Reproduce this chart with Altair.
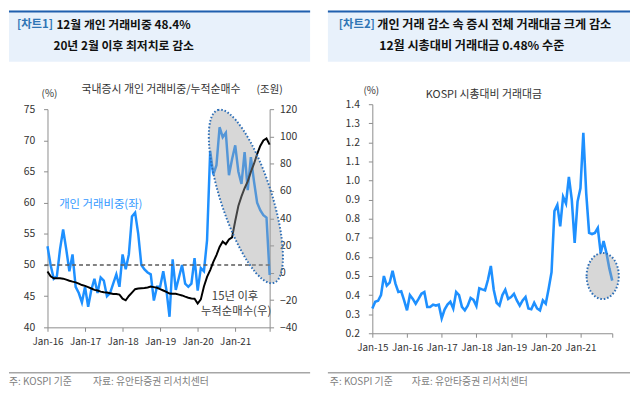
import altair as alt
import pandas as pd

FONT = "Noto Sans CJK KR"

# ---------------- Chart 1 data (Jan-16 .. Dec-21, monthly) ----------------
share_pct = [53.0, 50.0, 47.8, 48.2, 52.5, 55.7, 52.5, 49.0, 51.7, 46.5, 45.5, 44.0,
             46.5, 43.3, 46.0, 47.8, 45.5, 48.0, 47.5, 45.0, 45.5, 47.0, 48.5, 46.5,
             51.7, 49.3, 51.7, 57.8, 58.4, 55.0, 50.0, 49.3, 48.8, 48.5, 44.3, 46.5,
             46.5, 49.0, 46.0, 41.7, 50.9, 46.0, 48.0, 50.0, 47.0, 46.5, 47.0, 51.1,
             45.9, 49.5, 49.0, 54.0, 68.3, 64.5, 66.0, 72.1, 70.5, 71.2, 64.4, 67.0,
             69.2, 65.0, 63.0, 68.1, 62.0, 67.3, 63.4, 60.0, 58.8, 58.0, 57.6, 48.4]
net_buy = [1.0, -2.5, -4.0, -4.0, -4.0, -4.3, -5.0, -5.8, -6.5, -7.0, -8.0, -9.0,
           -9.6, -10.5, -11.5, -12.5, -13.0, -13.8, -14.2, -14.5, -15.0, -15.5, -15.5, -16.0,
           -19.0, -20.2, -17.0, -14.5, -12.0, -11.5, -11.3, -11.2, -10.8, -10.1, -10.5, -11.0,
           -12.0, -13.0, -14.0, -15.2, -15.4, -15.4, -16.0, -16.6, -17.5, -18.3, -18.8, -19.0,
           -22.6, -19.5, -10.0, -3.0, 2.0, 8.0, 13.0, 19.0, 23.0, 21.0, 24.4, 26.0,
           38.0, 49.0, 56.0, 62.0, 67.0, 74.0, 80.0, 87.0, 93.0, 97.0, 98.5, 94.0]
year_ticks_1 = ["Jan-16", "Jan-17", "Jan-18", "Jan-19", "Jan-20", "Jan-21"]

# ---------------- Chart 2 data (Jan-15 .. Dec-21, monthly) ----------------
turnover = [0.33, 0.365, 0.37, 0.40, 0.50, 0.45, 0.465, 0.527, 0.46, 0.416, 0.42, 0.372,
            0.32, 0.40, 0.38, 0.355, 0.38, 0.407, 0.416, 0.338, 0.338, 0.35, 0.345, 0.35,
            0.278, 0.324, 0.35, 0.365, 0.33, 0.416, 0.40, 0.338, 0.32, 0.345, 0.385, 0.375,
            0.343, 0.436, 0.43, 0.425, 0.48, 0.553, 0.428, 0.36, 0.345, 0.40, 0.428, 0.38,
            0.39, 0.407, 0.372, 0.345, 0.372, 0.39, 0.33, 0.326, 0.36, 0.33, 0.32, 0.372,
            0.355, 0.433, 0.52, 0.84, 0.872, 0.76, 0.915, 0.88, 1.019, 0.90, 0.674, 0.89,
            0.959, 1.25, 0.933, 0.726, 0.72, 0.726, 0.752, 0.62, 0.683, 0.62, 0.54, 0.476]
year_ticks_2 = ["Jan-15", "Jan-16", "Jan-17", "Jan-18", "Jan-19", "Jan-20", "Jan-21"]

df1 = pd.DataFrame({"m": list(range(len(share_pct))), "share": share_pct, "netbuy": net_buy})
df2 = pd.DataFrame({"m": list(range(len(turnover))), "val": turnover})

one = pd.DataFrame({"k": [0]})

AXC = "#8c8c8c"
LBL = "#333333"
BLUE = "#1e90ff"
DOT = "#2e6fb7"
ELL_PATH1 = "M -1 0 A 1 0.28 0 1 1 1 0 A 1 0.28 0 1 1 -1 0 Z"
ELL_PATH2 = "M -0.7 0 A 0.7 1 0 1 1 0.7 0 A 0.7 1 0 1 1 -0.7 0 Z"


def txt(s, x, y, size=11, color=LBL, weight="normal", align="left"):
    return alt.Chart(one).mark_text(
        text=s, align=align, baseline="middle", font=FONT, fontSize=size,
        fontWeight=weight, color=color
    ).encode(x=alt.value(x), y=alt.value(y))


def hline(x1, x2, y, color, w):
    return alt.Chart(one).mark_rule(color=color, strokeWidth=w).encode(
        x=alt.value(x1), x2=alt.value(x2), y=alt.value(y))


def box(x1, x2, y1, y2, color):
    return alt.Chart(one).mark_rect(color=color).encode(
        x=alt.value(x1), x2=alt.value(x2), y=alt.value(y1), y2=alt.value(y2))


def yaxis(values, orient, pad, fmt=None):
    kw = dict(orient=orient, values=values, tickSize=4, domainColor=AXC, tickColor=AXC,
              labelColor=LBL, labelFont=FONT, labelFontSize=10.5, labelPadding=pad,
              grid=False, title=None, labelOverlap=False)
    if fmt:
        kw["format"] = fmt
    return alt.Axis(**kw)


def xaxis(values, labels):
    return alt.Axis(values=values,
                    labelExpr="datum.value % 12 == 0 ? " + str(labels) + "[datum.value/12] : ''",
                    tickSize=4, domainColor=AXC, tickColor=AXC, labelColor=LBL,
                    labelFont=FONT, labelFontSize=10, labelPadding=5, grid=False,
                    title=None, labelAngle=0, labelFlush=False, labelOverlap=False)


# ---------------- Panel 1 ----------------
W1, H1 = 225, 226
x1_scale = alt.Scale(domain=[0, 71], nice=False, zero=False)
x1_axis = xaxis([0, 12, 24, 36, 48, 60, 71], year_ticks_1)
yl_scale = alt.Scale(domain=[40, 75], nice=False, zero=False, range=[H1, 5])
yr_scale = alt.Scale(domain=[-40, 120], nice=False, zero=False, range=[H1, 5])
yl_axis = yaxis([40, 45, 50, 55, 60, 65, 70, 75], "left", 9)
yr_axis = yaxis([-40, -20, 0, 20, 40, 60, 80, 100, 120], "right", 6)

blue1 = alt.Chart(df1).mark_line(color=BLUE, strokeWidth=2.5).encode(
    x=alt.X("m:Q", scale=x1_scale, axis=x1_axis),
    y=alt.Y("share:Q", scale=yl_scale, axis=yl_axis))
ref50 = alt.Chart(one).mark_rule(color="#595959", strokeDash=[4, 3], strokeWidth=1.5).encode(
    x=alt.value(-3), x2=alt.value(W1), y=alt.YDatum(50, scale=yl_scale, axis=yl_axis))
left_group = alt.layer(blue1, ref50)

black1 = alt.Chart(df1).mark_line(color="#000000", strokeWidth=2).encode(
    x=alt.X("m:Q", scale=x1_scale, axis=x1_axis),
    y=alt.Y("netbuy:Q", scale=yr_scale, axis=yr_axis))

ell1 = alt.Chart(pd.DataFrame({"m": [63.4], "v": [61.0]})).mark_point(
    shape=ELL_PATH1, size=33856, angle=72, filled=True, fill="#a0a0a0", fillOpacity=0.42,
    stroke=DOT, strokeWidth=2, strokeDash=[1.6, 1.9], strokeOpacity=1, opacity=1
).encode(x=alt.X("m:Q", scale=x1_scale, axis=x1_axis),
         y=alt.Y("v:Q", scale=yl_scale, axis=None))

deco1 = [
    box(-39, 266, -95, -43, "#e8f1fb"),
    hline(-39, 266, -94, "#1f5fae", 2),
    txt("[차트1]", -31, -80, 11.5, "#2f75b5", "bold"),
    txt("12월 개인 거래비중 48.4%", 9, -80, 12, "#111111", "bold"),
    txt("20년 2월 이후 최저치로 감소", 6, -59, 12, "#111111", "bold"),
    txt("(%)", 2, -10, 10, LBL, align="center"),
    txt("국내증시 개인 거래비중/누적순매수", 115, -14, 11, LBL, align="center"),
    txt("(조원)", 225, -14, 10.5, LBL, align="center"),
    txt("개인 거래비중(좌)", 54, 102, 11.5, "#3399ff", align="center"),
    txt("15년 이후", 190, 195, 11.5, "#404040", align="center"),
    txt("누적순매수(우)", 191, 210, 11.5, "#404040", align="center"),
    hline(-39, 266, 272, "#a6a6a6", 1.5),
    txt("주: KOSPI 기준", -39, 281, 10, "#808080"),
    txt("자료: 유안타증권 리서치센터", 46, 281, 10, "#808080"),
]

panel1 = alt.layer(*deco1, left_group, black1, ell1).resolve_scale(y="independent").properties(
    width=W1, height=H1)

# ---------------- Panel 2 ----------------
W2, H2 = 243, 232
x2_scale = alt.Scale(domain=[0, 83], nice=False, zero=False)
x2_axis = xaxis([0, 12, 24, 36, 48, 60, 72, 83], year_ticks_2)
y2_scale = alt.Scale(domain=[0.2, 1.4], nice=False, zero=False)
y2_axis = yaxis([0.2, 0.3, 0.4, 0.5, 0.6, 0.7, 0.8, 0.9, 1.0, 1.1, 1.2, 1.3, 1.4],
                "left", 9, ".1f")

line2 = alt.Chart(df2).mark_line(color=BLUE, strokeWidth=2.6).encode(
    x=alt.X("m:Q", scale=x2_scale, axis=x2_axis),
    y=alt.Y("val:Q", scale=y2_scale, axis=y2_axis))

ell2 = alt.Chart(pd.DataFrame({"m": [79.7], "v": [0.50]})).mark_point(
    shape=ELL_PATH2, size=2172, filled=True, fill="#a0a0a0", fillOpacity=0.42,
    stroke=DOT, strokeWidth=2, strokeDash=[1.6, 1.9], strokeOpacity=1, opacity=1
).encode(x=alt.X("m:Q", scale=x2_scale, axis=x2_axis),
         y=alt.Y("v:Q", scale=y2_scale, axis=y2_axis))

deco2 = [
    box(-45, 261, -95, -43, "#e8f1fb"),
    hline(-45, 261, -94, "#1f5fae", 2),
    txt("[차트2]", -34, -80, 11.5, "#2f75b5", "bold"),
    txt("개인 거래 감소 속 증시 전체 거래대금 크게 감소", 5, -80, 12.3, "#111111", "bold"),
    txt("12월 시총대비 거래대금 0.48% 수준", 7, -59, 12.3, "#111111", "bold"),
    txt("(%)", -1, -13, 10, LBL, align="center"),
    txt("KOSPI 시총대비 거래대금", 113, -9, 11, LBL, align="center"),
    hline(-45, 261, 272, "#a6a6a6", 1.5),
    txt("주: KOSPI 기준", -43, 281, 10, "#808080"),
    txt("자료: 유안타증권 리서치센터", 40, 281, 10, "#808080"),
]

panel2 = alt.layer(*deco2, line2, ell2).properties(width=W2, height=H2)

chart = (alt.hconcat(panel1, panel2, spacing=16)
         .properties(padding=0)
         .configure_view(stroke=None)
         .configure_axis(labelOverlap=False))

chart.save("out.html", embed_options={"renderer": "svg", "actions": False})
